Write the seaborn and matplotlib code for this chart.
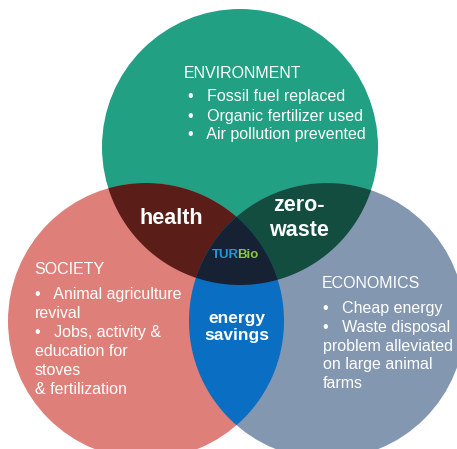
import numpy as np
import matplotlib
matplotlib.use("Agg")
import matplotlib.pyplot as plt
from matplotlib.patches import Circle, Polygon
import seaborn as sns

sns.set_theme(style="white")
plt.rcParams['font.family'] = ['Liberation Sans', 'DejaVu Sans']

# sets of the diagram
set_names = ["ENVIRONMENT", "SOCIETY", "ECONOMICS"]
set_colors = ["#21a084", "#df7f7a", "#8497b0"]
set_items = [
    ["•   Fossil fuel replaced", "•   Organic fertilizer used", "•   Air pollution prevented"],
    ["•   Animal agriculture", "revival", "•   Jobs, activity &", "education for", "stoves", "& fertilization"],
    ["•   Cheap energy", "•   Waste disposal", "problem alleviated", "on large animal", "farms"],
]
# overlaps: (set indices, label, colour)
overlap_sets = [(0, 1), (0, 2), (1, 2)]
overlap_labels = ["health", "zero-\nwaste", "energy\nsavings"]
overlap_colors = ["#5b1d18", "#124d40", "#0a6fc2"]
center_parts = ["TUR", "Bio"]
center_colors = ["#1b9ad8", "#8dc63f"]
center_fill = "#162233"

# layout (pixel space)
W, H = 457, 449
centers = [(240, 147), (146, 321), (327, 321)]
R = 138

fig = plt.figure(figsize=(W / 100, H / 100), dpi=100)
ax = fig.add_axes([0, 0, 1, 1])
ax.set_xlim(0, W)
ax.set_ylim(H, 0)
ax.axis("off")


def region(idx):
    pts = []
    t = np.linspace(0, 2 * np.pi, 3000, endpoint=False)
    for i in idx:
        cx, cy = centers[i]
        p = np.column_stack([cx + R * np.cos(t), cy + R * np.sin(t)])
        keep = np.ones(len(p), bool)
        for j in idx:
            if j != i:
                ox, oy = centers[j]
                keep &= (p[:, 0] - ox) ** 2 + (p[:, 1] - oy) ** 2 <= R ** 2 + 1e-6
        pts.append(p[keep])
    pts = np.vstack(pts)
    m = pts.mean(axis=0)
    order = np.argsort(np.arctan2(pts[:, 1] - m[1], pts[:, 0] - m[0]))
    return pts[order]


for c, col in zip(centers, set_colors):
    ax.add_patch(Circle(c, R, color=col, lw=0))
for idx, col in zip(overlap_sets, overlap_colors):
    ax.add_patch(Polygon(region(idx), closed=True, color=col, lw=0))
ax.add_patch(Polygon(region((0, 1, 2)), closed=True, color=center_fill, lw=0))

fs = 11.5
# set titles + items
title_pos = [(184, 73), (34, 270), (322, 283)]
item_start = [(188, 97), (35, 294), (323, 309)]
item_step = [19, 19.2, 18.5]
for name, items, tp, st, step in zip(set_names, set_items, title_pos, item_start, item_step):
    ax.text(tp[0], tp[1], name, color="white", fontsize=fs, va="center", ha="left")
    for k, line in enumerate(items):
        ax.text(st[0], st[1] + k * step, line, color="white", fontsize=fs, va="center", ha="left")

label_pos = [(171, 218), (299, 218), (237, 327)]
label_size = [15.5, 15.5, 12.5]
label_spacing = [1.0, 1.25, 1.22]
for lab, pos, s, ls in zip(overlap_labels, label_pos, label_size, label_spacing):
    ax.text(pos[0], pos[1], lab, color="white", fontsize=s, fontweight="bold",
            ha="center", va="center", linespacing=ls)

t1 = ax.text(225, 255, center_parts[0], color=center_colors[0], fontsize=9.5,
             fontweight="bold", ha="center", va="center")
ax.annotate(center_parts[1], xy=(1, 0.5), xycoords=t1, xytext=(-1, 0),
            textcoords="offset pixels", color=center_colors[1],
            fontsize=9.5, fontweight="bold", ha="left", va="center")

fig.savefig("out.png", dpi=100)
